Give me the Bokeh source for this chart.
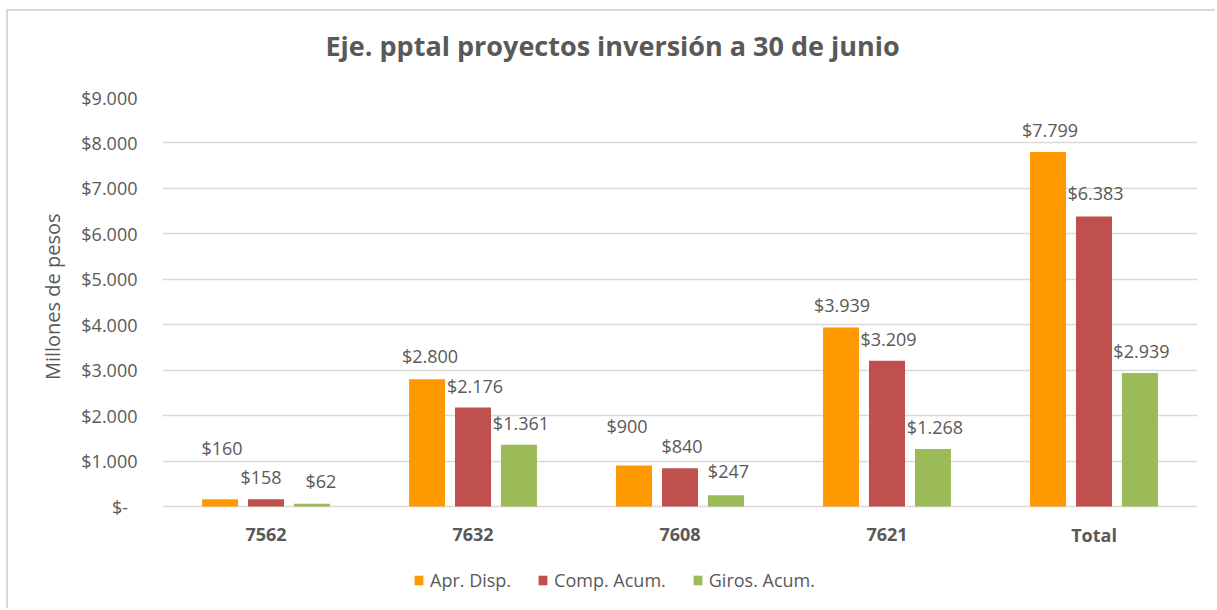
from bokeh.plotting import figure
from bokeh.models import (FactorRange, Range1d, ColumnDataSource, Legend, LegendItem,
                          CustomJSTickFormatter, FixedTicker, Title)
from bokeh.transform import dodge
from bokeh.core.properties import value
from bokeh.embed import file_html
from bokeh.resources import INLINE

# ---- data ----
categories = ["7562", "7632", "7608", "7621", "Total"]
series_names = ["Apr. Disp.", "Comp. Acum.", "Giros. Acum."]
apr_disp = [160, 2800, 900, 3939, 7799]
comp_acum = [158, 2176, 840, 3209, 6383]
giros_acum = [62, 1361, 247, 1268, 2939]
y_ticks = [0, 1000, 2000, 3000, 4000, 5000, 6000, 7000, 8000, 9000]
title_text = "Eje. pptal proyectos inversión a 30 de junio"
y_axis_title = "Millones de pesos"

# ---- styles ----
colors = ["#FF9900", "#C0504D", "#9BBB59"]
offsets = [-0.222, 0.0, 0.222]
bar_width = 0.174
# per-label pixel nudges (label centre relative to bar top centre)
label_dx = [[2, 3, -7, 1, 2], [-5, 2, 2, 1.5, 1.5], [9, 2, 2.5, 2, 1.5]]
label_dy = [[-51, -23, -40, -22.5, -22.5], [-22, -22, -22, -22, -23], [-23, -22, -24, -22, -22]]
TXT = "#595959"
FONT = "Open Sans"
Y_MAX = y_ticks[-1]
PX_PER_UNIT = 409 / Y_MAX          # plot area is 409 px tall for 0..9000
BELOW_PX = 104                     # room below the zero line for category labels + legend


def fmt(v):
    return "$" + f"{v:,}".replace(",", ".")


series_values = [apr_disp, comp_acum, giros_acum]
data = {"cat": categories}
for i, vals in enumerate(series_values):
    data[f"v{i}"] = vals
    data[f"t{i}"] = [fmt(v) for v in vals]
    data[f"dx{i}"] = label_dx[i]
    data[f"dy{i}"] = label_dy[i]
src = ColumnDataSource(data)

p = figure(x_range=FactorRange(*categories, range_padding=0),
           y_range=Range1d(-BELOW_PX / PX_PER_UNIT, Y_MAX),
           width=1209, height=599, output_backend="svg", toolbar_location=None,
           min_border_left=154, min_border_right=20, min_border_top=86, min_border_bottom=0,
           title=None)
p.margin = (9, 0, 0, 6)
p.styles = {"border-top": "2px solid #d9d9d9", "border-left": "2px solid #d9d9d9"}
p.outline_line_color = None
p.background_fill_color = "white"

renderers = []
for i in range(3):
    r = p.vbar(x=dodge("cat", offsets[i], range=p.x_range), top=f"v{i}", width=bar_width,
               source=src, fill_color=colors[i], line_color=None)
    renderers.append(r)
    p.text(x=dodge("cat", offsets[i], range=p.x_range), y=f"v{i}", text=f"t{i}",
           x_offset=f"dx{i}", y_offset=f"dy{i}", source=src,
           text_align="center", text_baseline="middle",
           text_font=value(FONT), text_font_size="18px", text_color=TXT)

# category labels under the zero line
p.text(x="cat", y=0, text="cat", source=src, y_offset=28,
       text_align="center", text_baseline="middle", text_font=value(FONT),
       text_font_size="18px", text_font_style="bold", text_color=TXT)

# axes
p.xaxis.visible = False
p.yaxis.ticker = FixedTicker(ticks=y_ticks)
p.yaxis.formatter = CustomJSTickFormatter(code="""
if (tick == 0) { return "$-\u00a0\u00a0"; }
const s = Math.round(tick).toString();
return "$" + s.replace(/\\B(?=(\\d{3})+(?!\\d))/g, ".");
""")
p.yaxis.axis_line_color = None
p.yaxis.major_tick_line_color = None
p.yaxis.minor_tick_line_color = None
p.yaxis.major_tick_out = 0
p.yaxis.major_label_standoff = 25
p.yaxis.major_label_text_font = FONT
p.yaxis.major_label_text_font_size = "18px"
p.yaxis.major_label_text_color = TXT

p.xgrid.grid_line_color = None
p.ygrid.grid_line_color = "#d9d9d9"
p.ygrid.grid_line_width = 1.5
p.ygrid.ticker = FixedTicker(ticks=y_ticks)

# y axis title (as a side title so it can be centred on the 0..9000 plot area)
p.add_layout(Title(text=y_axis_title, align="right", offset=116, vertical_align="bottom",
                   standoff=25, text_font=FONT, text_font_size="20px",
                   text_font_style="normal", text_color=TXT), "left")

# spacer between plot area and chart title, then the chart title
p.add_layout(Title(text="\u00a0", text_font_size="1px", standoff=30), "above")
p.add_layout(Title(text=title_text, align="left", offset=163, vertical_align="bottom",
                   standoff=2, text_font=FONT, text_font_size="27px",
                   text_font_style="bold", text_color=TXT), "above")

legend = Legend(items=[LegendItem(label=series_names[i], renderers=[renderers[i]]) for i in range(3)],
                orientation="horizontal", location=(251, 18), spacing=26, padding=0, margin=0,
                border_line_color=None, background_fill_alpha=0,
                glyph_width=11, glyph_height=12, label_standoff=6, label_height=20,
                label_text_font=FONT, label_text_font_size="18px", label_text_color=TXT)
p.add_layout(legend)

open("out.html", "w").write(file_html(p, INLINE))
